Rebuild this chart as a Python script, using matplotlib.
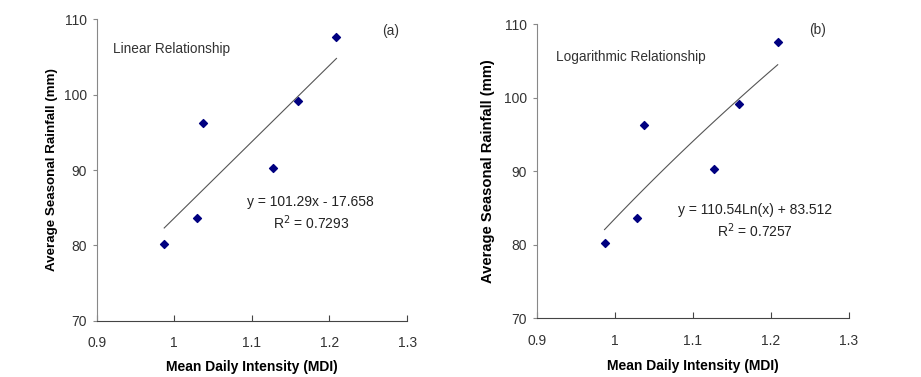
import numpy as np
import matplotlib.pyplot as plt

plt.rcParams['font.family'] = ['Liberation Sans', 'DejaVu Sans']

# Data
mdi = [0.987, 1.029, 1.037, 1.127, 1.160, 1.209]
rainfall = [80.2, 83.6, 96.3, 90.3, 99.1, 107.6]

# Trendline coefficients (as printed on the chart)
lin_slope, lin_icpt = 101.29, -17.658
log_coef, log_icpt = 110.54, 83.512

xticks = [0.9, 1.0, 1.1, 1.2, 1.3]
xtick_labels = ['0.9', '1', '1.1', '1.2', '1.3']
yticks = [70, 80, 90, 100, 110]

fig = plt.figure(figsize=(9.21, 3.77), dpi=100)
ax1 = fig.add_axes([0.105, 0.149, 0.337, 0.800])
ax2 = fig.add_axes([0.5827, 0.1557, 0.3388, 0.780])

xfit = np.linspace(min(mdi), max(mdi), 100)
fits = [lin_slope * xfit + lin_icpt, log_coef * np.log(xfit) + log_icpt]

labels = ['Linear Relationship', 'Logarithmic Relationship']
tags = ['(a)', '(b)']
eqs = ['y = 101.29x - 17.658', 'y = 110.54Ln(x) + 83.512']
r2s = ['R$^2$ = 0.7293', 'R$^2$ = 0.7257']
label_pos = [(0.9215, 106.0), (0.9248, 105.5)]
tag_pos = [(1.279, 108.4), (1.26, 109.2)]
eq_pos = [(1.176, 85.7), (1.18, 84.7)]
r2_pos = [(1.176, 83.0), (1.18, 81.9)]
ylabel_size = [9.6, 10.6]
ylabel_pad = [4, 6]
xlabel_pad = [7, 8]

for i, ax in enumerate([ax1, ax2]):
    ax.plot(xfit, fits[i], color='#555555', lw=0.8)
    ax.scatter(mdi, rainfall, marker='D', s=16, color='#000080', zorder=3)

    ax.set_xlim(0.9, 1.3)
    ax.set_ylim(70, 110)
    ax.set_xticks(xticks)
    ax.set_xticklabels(xtick_labels)
    ax.set_yticks(yticks)

    for s in ['top', 'right']:
        ax.spines[s].set_visible(False)
    ax.spines['left'].set_color('#888888')
    ax.spines['bottom'].set_color('#444444')
    ax.tick_params(axis='x', direction='in', length=4, pad=11,
                   labelsize=10, colors='#444444', labelcolor='#333333')
    ax.tick_params(axis='y', direction='out', length=3, pad=4,
                   labelsize=10, colors='#888888', labelcolor='#333333')

    ax.set_xlabel('Mean Daily Intensity (MDI)', fontsize=10,
                  fontweight='bold', labelpad=xlabel_pad[i])
    ax.set_ylabel('Average Seasonal Rainfall (mm)', fontsize=ylabel_size[i],
                  fontweight='bold', labelpad=ylabel_pad[i])

    ax.text(*label_pos[i], labels[i], fontsize=9.8, color='#333333', va='center')
    ax.text(*tag_pos[i], tags[i], fontsize=9.8, color='#333333',
            ha='center', va='center')
    ax.text(*eq_pos[i], eqs[i], fontsize=10, color='#222222',
            ha='center', va='center')
    ax.text(*r2_pos[i], r2s[i], fontsize=10, color='#222222',
            ha='center', va='center')

fig.savefig('out.png', dpi=100)
